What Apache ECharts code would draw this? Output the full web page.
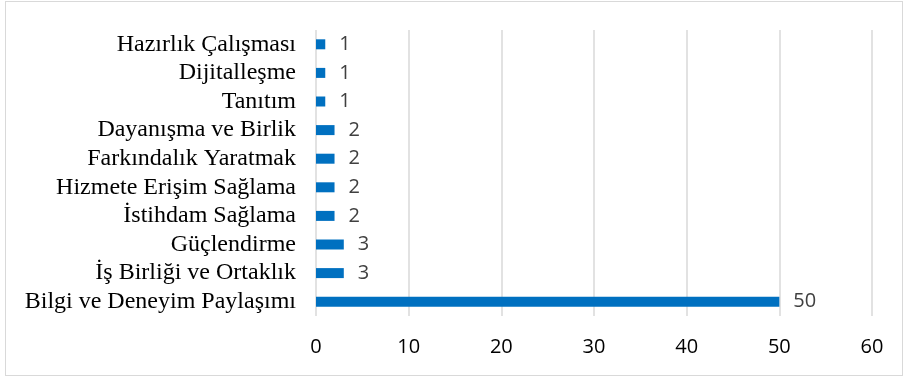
<!DOCTYPE html>
<html>
<head>
<meta charset="utf-8">
<script src="https://cdn.jsdelivr.net/npm/echarts@6/dist/echarts.min.js"></script>
<style>
  html, body { margin: 0; padding: 0; background: #fff; }
  #frame { position: absolute; left: 5px; top: 1px; width: 898px; height: 375px; border: 1px solid #d9d9d9; box-sizing: border-box; }
  #chart { position: absolute; left: 0; top: 0; width: 908px; height: 379px; }
</style>
</head>
<body>
<div id="frame"></div>
<div id="chart"></div>
<script>
// Categories listed bottom-to-top, as the category axis draws them
const categories = [
  'Bilgi ve Deneyim Paylaşımı',
  'İş Birliği ve Ortaklık',
  'Güçlendirme',
  'İstihdam Sağlama',
  'Hizmete Erişim Sağlama',
  'Farkındalık Yaratmak',
  'Dayanışma ve Birlik',
  'Tanıtım',
  'Dijitalleşme',
  'Hazırlık Çalışması'
];
const counts = [50, 3, 3, 2, 2, 2, 2, 1, 1, 1];
const axisMax = 60;
const axisStep = 10;

const chart = echarts.init(document.getElementById('chart'), null, { renderer: 'canvas' });
chart.setOption({
  animation: false,
  grid: { left: 316, right: 36, top: 30, bottom: 63, containLabel: false },
  xAxis: {
    type: 'value',
    min: 0,
    max: axisMax,
    interval: axisStep,
    axisLine: { show: false },
    axisTick: { show: false },
    splitLine: { show: true, lineStyle: { color: '#d9d9d9', width: 1.5 } },
    axisLabel: {
      margin: 21,
      color: '#000',
      fontFamily: 'Open Sans, Liberation Sans, sans-serif',
      fontSize: 20
    }
  },
  yAxis: {
    type: 'category',
    data: categories,
    axisLine: { show: false },
    axisTick: { show: false },
    axisLabel: {
      interval: 0,
      margin: 20,
      color: '#000',
      fontFamily: 'Liberation Serif, Times New Roman, serif',
      fontSize: 24
    }
  },
  series: [{
    type: 'bar',
    data: counts,
    barWidth: 10,
    itemStyle: { color: '#0070C0' },
    label: {
      show: true,
      position: 'right',
      distance: 14,
      color: '#404040',
      fontFamily: 'Open Sans, Liberation Sans, sans-serif',
      fontSize: 20
    }
  }]
});
</script>
</body>
</html>
